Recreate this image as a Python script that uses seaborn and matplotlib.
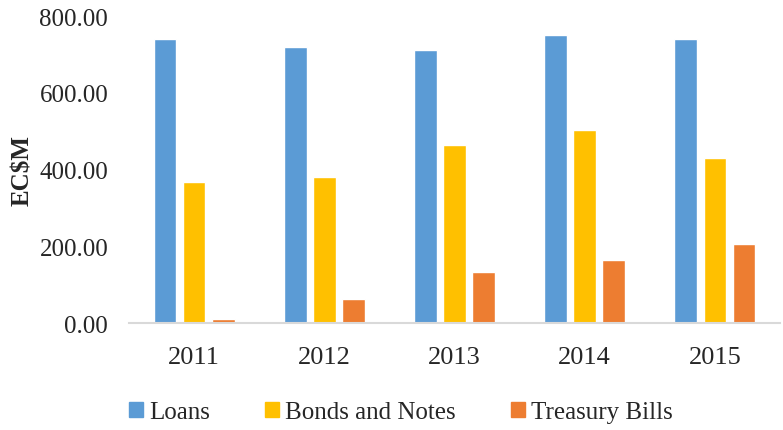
import matplotlib
matplotlib.use("Agg")
import matplotlib.pyplot as plt
import seaborn as sns
import pandas as pd

years = ["2011", "2012", "2013", "2014", "2015"]
loans = [740, 720, 711, 751, 740]
bonds_notes = [369, 380, 463, 503, 431]
treasury_bills = [12, 62, 133, 164, 206]
series_names = ["Loans", "Bonds and Notes", "Treasury Bills"]
colors = ["#5B9BD5", "#FFC000", "#ED7D31"]
y_ticks = [0, 200, 400, 600, 800]

df = pd.DataFrame({
    "Year": years * 3,
    "Series": [series_names[0]] * 5 + [series_names[1]] * 5 + [series_names[2]] * 5,
    "Value": loans + bonds_notes + treasury_bills,
})

sns.set_theme(style="white")
plt.rcParams["font.family"] = ["Liberation Serif", "DejaVu Serif"]

fig = plt.figure(figsize=(7.83, 4.31), dpi=100)
ax = fig.add_axes([129 / 783, 1 - 324.3 / 431, (780 - 129) / 783, (324.3 - 17) / 431])

sns.barplot(data=df, x="Year", y="Value", hue="Series", palette=colors,
            width=0.67, gap=0.22, ax=ax, legend=False, saturation=1)

ax.set_ylim(0, 800)
ax.set_xlim(-0.5, 4.5)
ax.set_yticks(y_ticks)
ax.set_yticklabels([f"{v:.2f}" for v in y_ticks], fontsize=18)
ax.tick_params(axis="y", length=0, pad=15)
ax.tick_params(axis="x", length=0, pad=16, labelsize=19)
ax.set_xlabel("")
ax.set_ylabel("EC$M", fontsize=18, fontweight="bold", labelpad=4)

for side in ["top", "right", "left"]:
    ax.spines[side].set_visible(False)
ax.spines["bottom"].set_color("#d9d9d9")
ax.spines["bottom"].set_linewidth(1.5)

handles = [plt.Rectangle((0, 0), 1, 1, color=c) for c in colors]
fig.legend(handles, series_names, loc="center", bbox_to_anchor=(401 / 783, 1 - 413 / 431),
           ncol=3, frameon=False, fontsize=18, handlelength=0.55, handleheight=0.55,
           handletextpad=0.25, columnspacing=2.2)

fig.savefig("out.png", dpi=100)
